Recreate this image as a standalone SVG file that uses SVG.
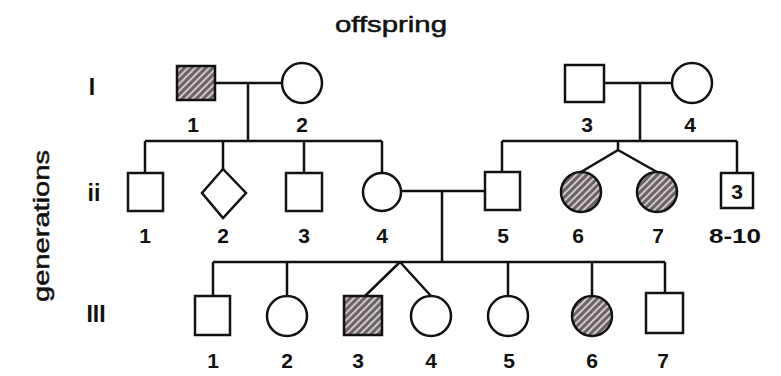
<svg xmlns="http://www.w3.org/2000/svg" width="781" height="376" viewBox="0 0 781 376">
<defs>
<pattern id="hatch" width="5" height="5" patternUnits="userSpaceOnUse" patternTransform="rotate(45)">
<rect width="5" height="5" fill="#6a6266"/>
<rect x="0" y="0" width="2" height="5" fill="#cfc7cb"/>
</pattern>
<style>
.s{fill:#fff;stroke:#111;stroke-width:2.5}
.a{fill:url(#hatch);stroke:#111;stroke-width:2.5}
.c{fill:none;stroke:#111;stroke-width:2.5}
.t{font-family:"Liberation Sans",Arial,sans-serif;font-weight:bold;font-size:21px;fill:#111;text-anchor:middle}
.h{font-family:"Liberation Sans",Arial,sans-serif;font-size:22px;fill:#111;text-anchor:middle;stroke:#111;stroke-width:0.5}
.g{font-family:"Liberation Sans",Arial,sans-serif;font-weight:bold;font-size:23px;fill:#111;text-anchor:middle}
</style>
</defs>
<rect width="781" height="376" fill="#fff"/>
<text class="h" x="391" y="32" textLength="112" lengthAdjust="spacingAndGlyphs">offspring</text>
<text class="h" x="0" y="0" font-size="26" transform="translate(49,226) rotate(-90)" textLength="152" lengthAdjust="spacingAndGlyphs">generations</text>
<text class="g" x="92" y="95">I</text>
<text class="g" x="94" y="201">ii</text>
<text class="g" x="96" y="322">III</text>
<g id="connectors">
<path class="c" d="M215,83 H282 M248,83 V141 M145,141 H382 M145,141 V173 M223,141 V169 M304,141 V173 M382,141 V173"/>
<path class="c" d="M604,83 H672 M640,83 V141 M502,141 H737 M502,141 V172 M737,141 V173 M618,141 V150 L581,172 M618,150 L657,172"/>
<path class="c" d="M401,191 H485 M442,191 V262 M213,262 H665 M213,262 V296 M287,262 V296 M400,262 L365,296 M400,262 L431,296 M508,262 V296 M592,262 V296 M665,262 V293"/>
</g>
<g id="I-1"><rect class="a" x="177" y="66" width="38" height="34"/><text class="t" x="193" y="132">1</text></g>
<g id="I-2"><circle class="s" cx="302" cy="83" r="20"/><text class="t" x="302" y="132">2</text></g>
<g id="I-3"><rect class="s" x="565" y="65" width="39" height="37"/><text class="t" x="587" y="132">3</text></g>
<g id="I-4"><circle class="s" cx="692" cy="83" r="20"/><text class="t" x="690" y="132">4</text></g>
<g id="II-1"><rect class="s" x="128" y="173" width="35" height="38"/><text class="t" x="145" y="243">1</text></g>
<g id="II-2"><polygon class="s" points="223,169 246,193 223,218 202,193"/><text class="t" x="223" y="243">2</text></g>
<g id="II-3"><rect class="s" x="286" y="173" width="36" height="38"/><text class="t" x="304" y="243">3</text></g>
<g id="II-4"><circle class="s" cx="382" cy="192" r="19"/><text class="t" x="382" y="243">4</text></g>
<g id="II-5"><rect class="s" x="485" y="172" width="35" height="38"/><text class="t" x="503" y="243">5</text></g>
<g id="II-6"><circle class="a" cx="581" cy="192" r="20"/><text class="t" x="578" y="243">6</text></g>
<g id="II-7"><circle class="a" cx="657" cy="192" r="20"/><text class="t" x="658" y="243">7</text></g>
<g id="II-8-10"><rect class="s" x="721" y="173" width="32" height="35"/><text class="t" x="737" y="199" font-size="22">3</text><text class="t" x="735" y="243" textLength="52" lengthAdjust="spacingAndGlyphs">8-10</text></g>
<g id="III-1"><rect class="s" x="195" y="296" width="35" height="39"/><text class="t" x="213" y="368">1</text></g>
<g id="III-2"><circle class="s" cx="287" cy="316" r="20"/><text class="t" x="287" y="368">2</text></g>
<g id="III-3"><rect class="a" x="344" y="296" width="38" height="39"/><text class="t" x="358" y="368">3</text></g>
<g id="III-4"><circle class="s" cx="431" cy="316" r="20"/><text class="t" x="431" y="368">4</text></g>
<g id="III-5"><circle class="s" cx="508" cy="316" r="20"/><text class="t" x="509" y="368">5</text></g>
<g id="III-6"><circle class="a" cx="592" cy="316" r="20"/><text class="t" x="592" y="368">6</text></g>
<g id="III-7"><rect class="s" x="646" y="293" width="37" height="40"/><text class="t" x="663" y="368">7</text></g>
</svg>
